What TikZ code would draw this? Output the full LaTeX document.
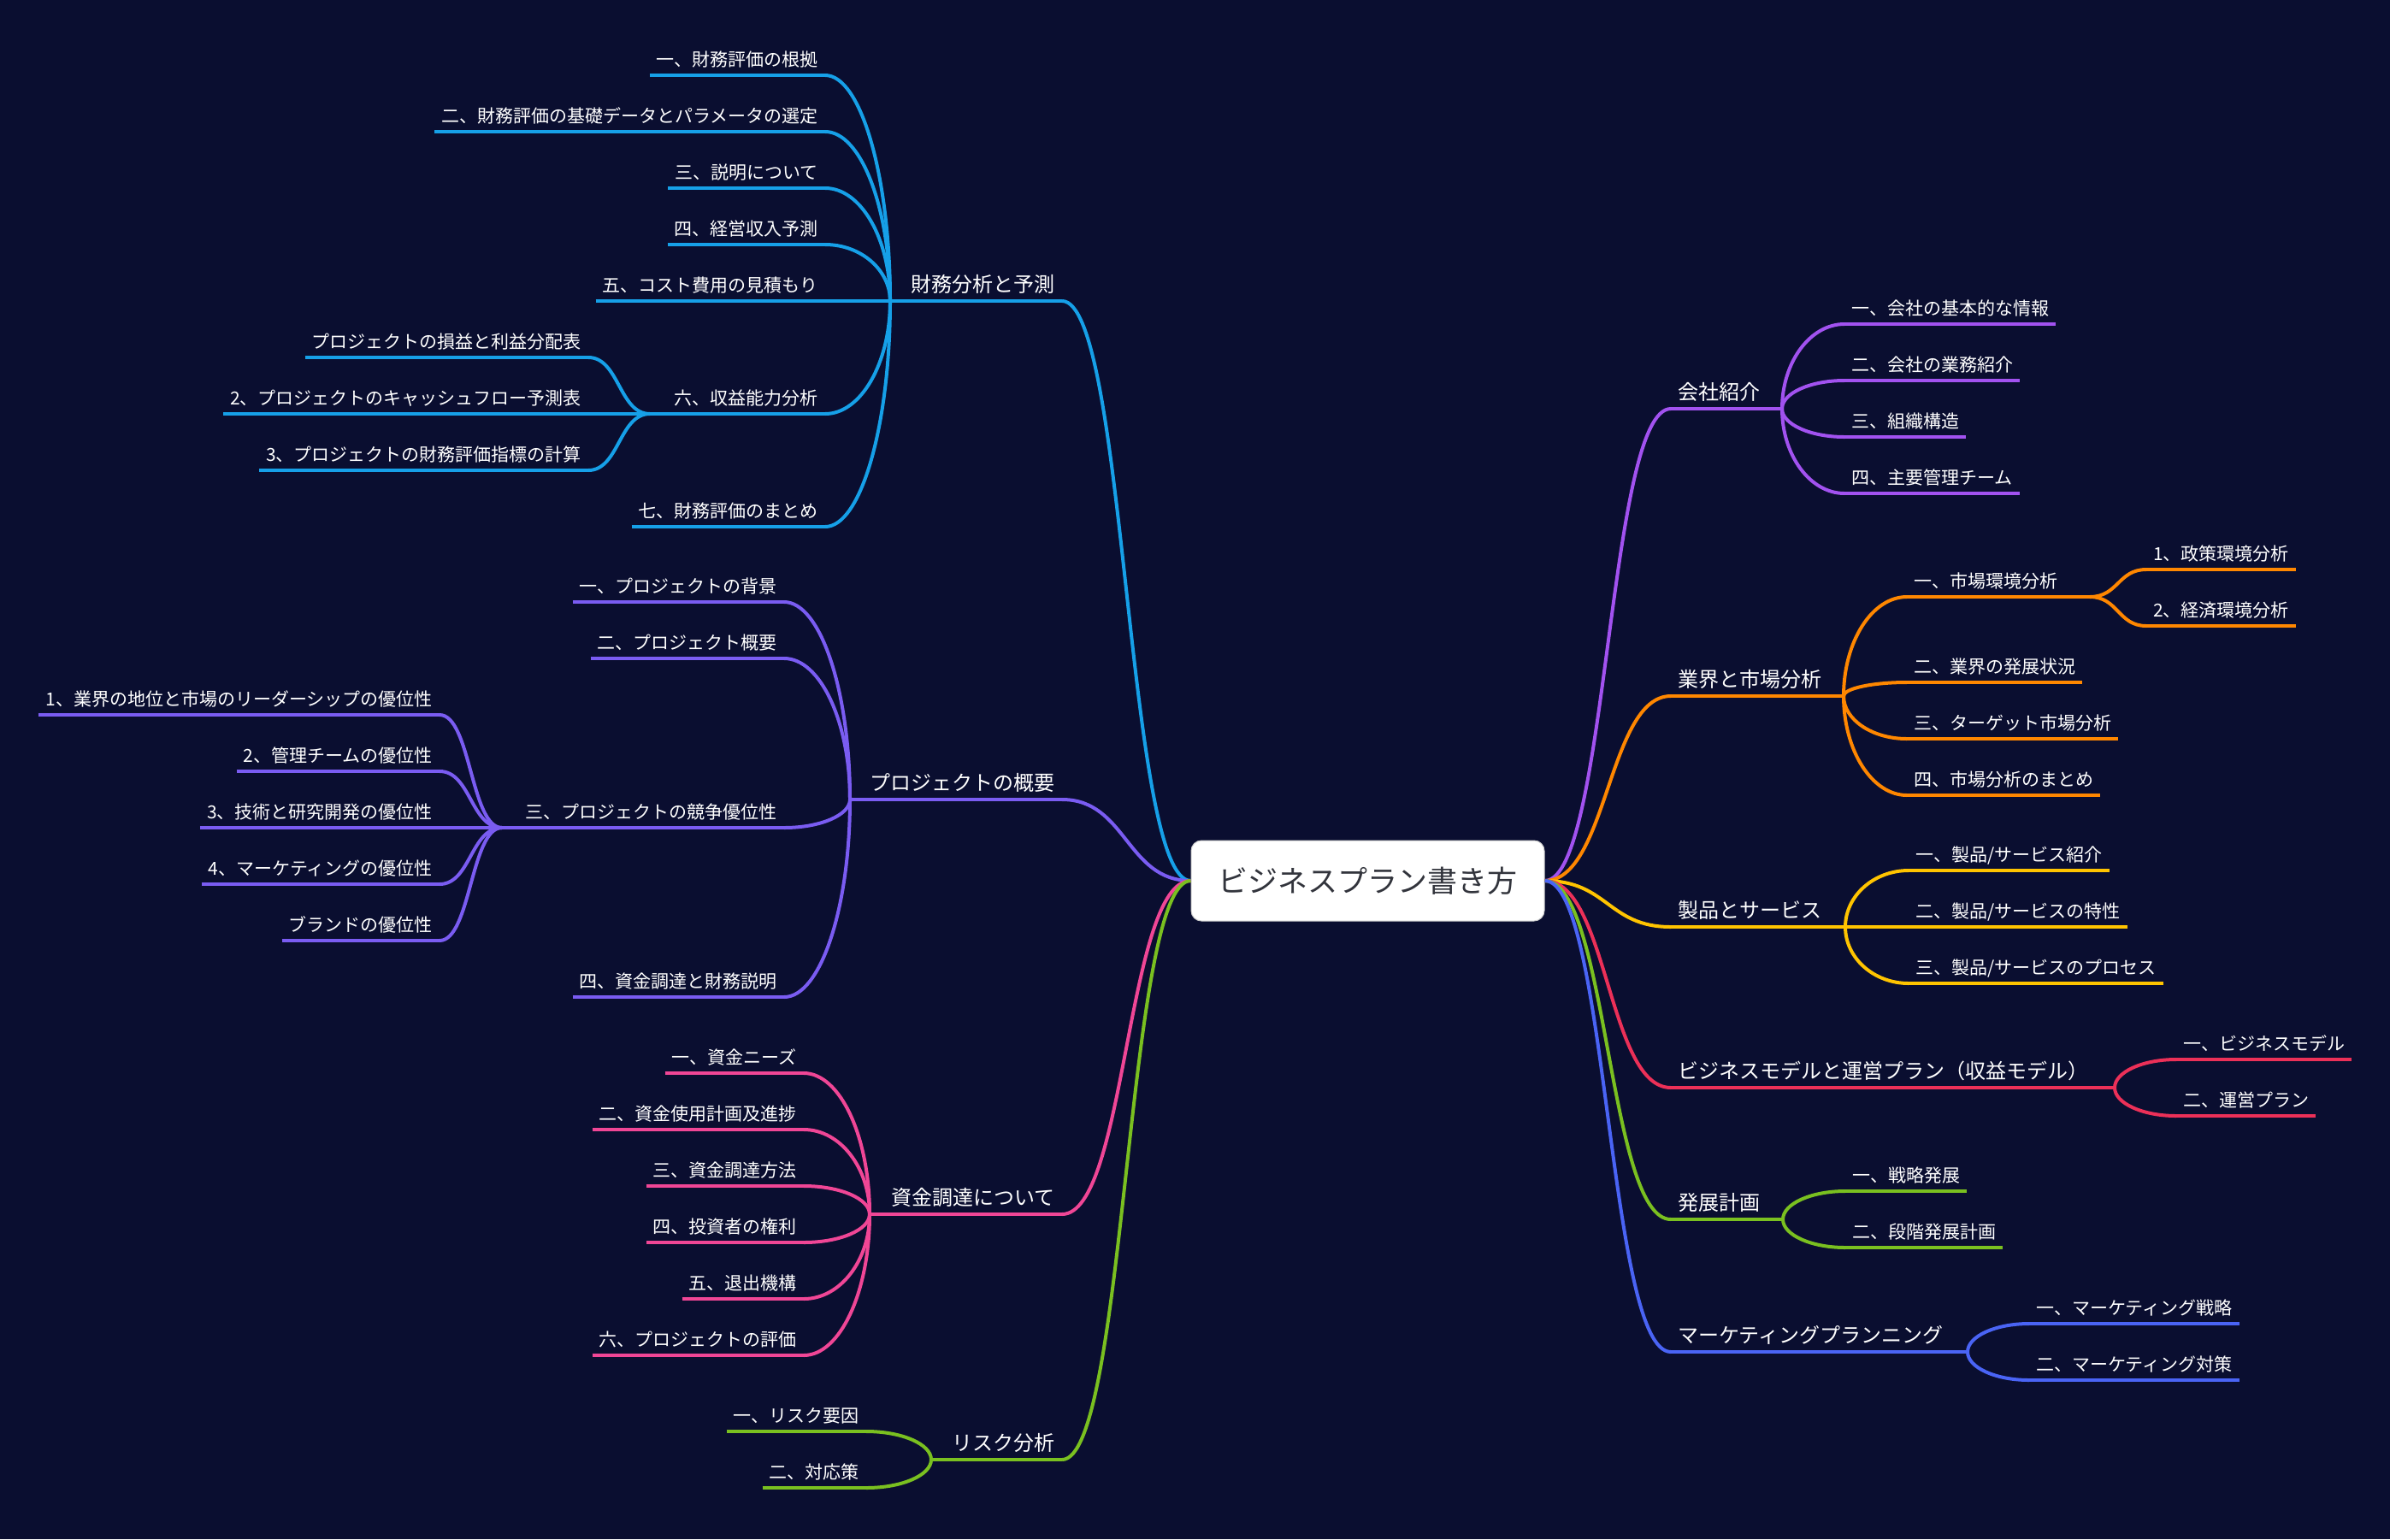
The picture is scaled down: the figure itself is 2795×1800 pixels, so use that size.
\documentclass[tikz,border=0pt]{standalone}
\usepackage{fontspec}
\setmainfont{Noto Sans CJK JP}
\usetikzlibrary{calc}
\definecolor{bgc}{RGB}{10,14,48}
\definecolor{cA}{RGB}{22,160,232}
\definecolor{cB}{RGB}{122,92,242}
\definecolor{cC}{RGB}{240,70,150}
\definecolor{cD}{RGB}{122,192,32}
\definecolor{cE}{RGB}{162,82,240}
\definecolor{cF}{RGB}{255,135,0}
\definecolor{cG}{RGB}{255,196,0}
\definecolor{cH}{RGB}{236,48,88}
\definecolor{cI}{RGB}{122,192,32}
\definecolor{cJ}{RGB}{74,100,245}
\definecolor{tgray}{RGB}{50,52,60}
% style, colour, name, x, y, text
\newcommand\Lleaf[6]{\node[#1, anchor=south east] (#3) at (#4,#5) {#6};
  \draw[#2, conn] (#3.south west) -- (#3.south east);}
\newcommand\Rleaf[6]{\node[#1, anchor=south west] (#3) at (#4,#5) {#6};
  \draw[#2, conn] (#3.south west) -- (#3.south east);}
\newcommand\Scurve[3]{\path ($(#2)!.5!(#3)$) coordinate (mm);
  \draw[#1, conn] (#2) .. controls (#2 -| mm) and (#3 -| mm) .. (#3);}
\newcommand\Qcurve[3]{\draw[#1, conn] (#2) .. controls ($(#2)!.55!(#2 |- #3)$) and ($(#3)!.55!(#2 |- #3)$) .. (#3);}
\begin{document}
\begin{tikzpicture}[x=1pt,y=-1pt,
  leaf/.style={font=\fontsize{21}{25}\selectfont, text=white, inner xsep=8pt, inner ysep=0pt, text height=18pt, text depth=10.8pt},
  topic/.style={font=\fontsize{24}{28}\selectfont, text=white, inner xsep=8pt, inner ysep=0pt, text height=20pt, text depth=10pt},
  conn/.style={line width=4pt}]
\fill[bgc] (0,0) rectangle (2795,1800);
\useasboundingbox (0,0) rectangle (2795,1800);

% centre
\node[draw=gray!40, line width=1pt, fill=white, rounded corners=12pt, minimum width=413pt, minimum height=94pt, inner sep=0pt, text=tgray, font=\fontsize{35}{40}\selectfont] (c) at (1599.5,1030) {ビジネスプラン書き方};

% ===== left: 財務分析と予測 =====
\Lleaf{topic}{cA}{L1}{1242}{352}{財務分析と予測}
\coordinate (f1) at (1041,352);
\draw[cA,conn] (L1.south west) -- (f1);
\Lleaf{leaf}{cA}{a1}{965}{88}{一、財務評価の根拠}
\Lleaf{leaf}{cA}{a2}{965}{154}{二、財務評価の基礎データとパラメータの選定}
\Lleaf{leaf}{cA}{a3}{965}{220}{三、説明について}
\Lleaf{leaf}{cA}{a4}{965}{286}{四、経営収入予測}
\Lleaf{leaf}{cA}{a5}{965}{352}{五、コスト費用の見積もり}
\Lleaf{leaf}{cA}{a6}{965}{484}{六、収益能力分析}
\Lleaf{leaf}{cA}{a7}{965}{616}{七、財務評価のまとめ}
\foreach \n in {a1,a2,a3,a4,a5,a6,a7} {\Qcurve{cA}{f1}{\n.south east}}
\coordinate (f16) at (760,484);
\draw[cA,conn] (a6.south west) -- (f16);
\Lleaf{leaf}{cA}{a61}{688}{418}{プロジェクトの損益と利益分配表}
\Lleaf{leaf}{cA}{a62}{688}{484}{2、プロジェクトのキャッシュフロー予測表}
\Lleaf{leaf}{cA}{a63}{688}{550}{3、プロジェクトの財務評価指標の計算}
\foreach \n in {a61,a62,a63} {\Scurve{cA}{f16}{\n.south east}}
\Scurve{cA}{c.west}{L1.south east}

% ===== left: プロジェクトの概要 =====
\Lleaf{topic}{cB}{L2}{1242}{935}{プロジェクトの概要}
\coordinate (f2) at (994,935);
\draw[cB,conn] (L2.south west) -- (f2);
\Lleaf{leaf}{cB}{b1}{917}{704}{一、プロジェクトの背景}
\Lleaf{leaf}{cB}{b2}{917}{770}{二、プロジェクト概要}
\Lleaf{leaf}{cB}{b3}{917}{968}{三、プロジェクトの競争優位性}
\Lleaf{leaf}{cB}{b4}{917}{1166}{四、資金調達と財務説明}
\foreach \n in {b1,b2,b3,b4} {\Qcurve{cB}{f2}{\n.south east}}
\coordinate (f23) at (587,968);
\draw[cB,conn] (b3.south west) -- (f23);
\Lleaf{leaf}{cB}{b31}{514}{836}{1、業界の地位と市場のリーダーシップの優位性}
\Lleaf{leaf}{cB}{b32}{514}{902}{2、管理チームの優位性}
\Lleaf{leaf}{cB}{b33}{514}{968}{3、技術と研究開発の優位性}
\Lleaf{leaf}{cB}{b34}{514}{1034}{4、マーケティングの優位性}
\Lleaf{leaf}{cB}{b35}{514}{1100}{ブランドの優位性}
\foreach \n in {b31,b32,b33,b34,b35} {\Scurve{cB}{f23}{\n.south east}}
\Scurve{cB}{c.west}{L2.south east}

% ===== left: 資金調達について =====
\Lleaf{topic}{cC}{L3}{1242}{1420}{資金調達について}
\coordinate (f3) at (1017,1420);
\draw[cC,conn] (L3.south west) -- (f3);
\Lleaf{leaf}{cC}{c1}{940}{1255}{一、資金ニーズ}
\Lleaf{leaf}{cC}{c2}{940}{1321}{二、資金使用計画及進捗}
\Lleaf{leaf}{cC}{c3}{940}{1387}{三、資金調達方法}
\Lleaf{leaf}{cC}{c4}{940}{1453}{四、投資者の権利}
\Lleaf{leaf}{cC}{c5}{940}{1519}{五、退出機構}
\Lleaf{leaf}{cC}{c6}{940}{1585}{六、プロジェクトの評価}
\foreach \n in {c1,c2,c3,c4,c5,c6} {\Qcurve{cC}{f3}{\n.south east}}
\Scurve{cC}{c.west}{L3.south east}

% ===== left: リスク分析 =====
\Lleaf{topic}{cD}{L4}{1242}{1707}{リスク分析}
\coordinate (f4) at (1089,1707);
\draw[cD,conn] (L4.south west) -- (f4);
\Lleaf{leaf}{cD}{d1}{1013}{1674}{一、リスク要因}
\Lleaf{leaf}{cD}{d2}{1013}{1740}{二、対応策}
\foreach \n in {d1,d2} {\Qcurve{cD}{f4}{\n.south east}}
\Scurve{cD}{c.west}{L4.south east}

% ===== right: 会社紹介 =====
\Rleaf{topic}{cE}{R1}{1954}{478}{会社紹介}
\coordinate (g1) at (2084,478);
\draw[cE,conn] (R1.south east) -- (g1);
\Rleaf{leaf}{cE}{e1}{2157}{379}{一、会社の基本的な情報}
\Rleaf{leaf}{cE}{e2}{2157}{445}{二、会社の業務紹介}
\Rleaf{leaf}{cE}{e3}{2157}{511}{三、組織構造}
\Rleaf{leaf}{cE}{e4}{2157}{577}{四、主要管理チーム}
\foreach \n in {e1,e2,e3,e4} {\Qcurve{cE}{g1}{\n.south west}}
\Scurve{cE}{c.east}{R1.south west}

% ===== right: 業界と市場分析 =====
\Rleaf{topic}{cF}{R2}{1954}{814}{業界と市場分析}
\coordinate (g2) at (2156,814);
\draw[cF,conn] (R2.south east) -- (g2);
\Rleaf{leaf}{cF}{h1}{2230}{698}{一、市場環境分析}
\Rleaf{leaf}{cF}{h2}{2230}{798}{二、業界の発展状況}
\Rleaf{leaf}{cF}{h3}{2230}{864}{三、ターゲット市場分析}
\Rleaf{leaf}{cF}{h4}{2230}{930}{四、市場分析のまとめ}
\foreach \n in {h1,h2,h3,h4} {\Qcurve{cF}{g2}{\n.south west}}
\coordinate (g21) at (2444,698);
\draw[cF,conn] (h1.south east) -- (g21);
\Rleaf{leaf}{cF}{h11}{2510}{666}{1、政策環境分析}
\Rleaf{leaf}{cF}{h12}{2510}{732}{2、経済環境分析}
\foreach \n in {h11,h12} {\Scurve{cF}{g21}{\n.south west}}
\Scurve{cF}{c.east}{R2.south west}

% ===== right: 製品とサービス =====
\Rleaf{topic}{cG}{R3}{1954}{1084}{製品とサービス}
\coordinate (g3) at (2158,1084);
\draw[cG,conn] (R3.south east) -- (g3);
\Rleaf{leaf}{cG}{i1}{2232}{1018}{一、製品/サービス紹介}
\Rleaf{leaf}{cG}{i2}{2232}{1084}{二、製品/サービスの特性}
\Rleaf{leaf}{cG}{i3}{2232}{1150}{三、製品/サービスのプロセス}
\foreach \n in {i1,i2,i3} {\Qcurve{cG}{g3}{\n.south west}}
\Scurve{cG}{c.east}{R3.south west}

% ===== right: ビジネスモデル =====
\Rleaf{topic}{cH}{R4}{1954}{1272}{ビジネスモデルと運営プラン（収益モデル）}
\coordinate (g4) at (2473,1272);
\draw[cH,conn] (R4.south east) -- (g4);
\Rleaf{leaf}{cH}{j1}{2545}{1239}{一、ビジネスモデル}
\Rleaf{leaf}{cH}{j2}{2545}{1305}{二、運営プラン}
\foreach \n in {j1,j2} {\Qcurve{cH}{g4}{\n.south west}}
\Scurve{cH}{c.east}{R4.south west}

% ===== right: 発展計画 =====
\Rleaf{topic}{cI}{R5}{1954}{1426}{発展計画}
\coordinate (g5) at (2085,1426);
\draw[cI,conn] (R5.south east) -- (g5);
\Rleaf{leaf}{cI}{k1}{2158}{1393}{一、戦略発展}
\Rleaf{leaf}{cI}{k2}{2158}{1459}{二、段階発展計画}
\foreach \n in {k1,k2} {\Qcurve{cI}{g5}{\n.south west}}
\Scurve{cI}{c.east}{R5.south west}

% ===== right: マーケティングプランニング =====
\Rleaf{topic}{cJ}{R6}{1954}{1581}{マーケティングプランニング}
\coordinate (g6) at (2301,1581);
\draw[cJ,conn] (R6.south east) -- (g6);
\Rleaf{leaf}{cJ}{l1}{2373}{1548}{一、マーケティング戦略}
\Rleaf{leaf}{cJ}{l2}{2373}{1614}{二、マーケティング対策}
\foreach \n in {l1,l2} {\Qcurve{cJ}{g6}{\n.south west}}
\Scurve{cJ}{c.east}{R6.south west}
\end{tikzpicture}
\end{document}
